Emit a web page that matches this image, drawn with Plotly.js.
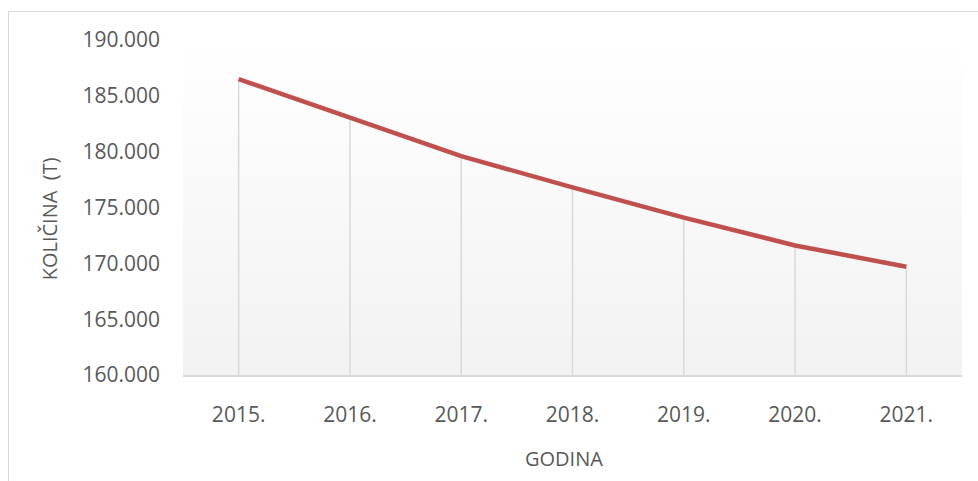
<!DOCTYPE html>
<html>
<head>
<meta charset="utf-8">
<script src="https://cdn.plot.ly/plotly-3.0.1.min.js"></script>
<style>
  html, body { margin: 0; padding: 0; background: #ffffff; overflow: hidden; }
  #frame { position: absolute; left: 8px; top: 11px; width: 990px; height: 490px;
           border-left: 1px solid #d9d9d9; border-top: 1px solid #d9d9d9; }
  #chart { position: absolute; left: 0; top: 0; width: 978px; height: 481px; }
</style>
</head>
<body>
<div id="frame"></div>
<div id="chart"></div>
<script>
const years = ['2015.', '2016.', '2017.', '2018.', '2019.', '2020.', '2021.'];
const quantities = [186500, 183000, 179600, 176800, 174100, 171600, 169700];
const yTickValues = [160000, 165000, 170000, 175000, 180000, 185000, 190000];
const yMin = 160000;
const yMax = 190000;
const xTitle = 'GODINA';
const yTitle = 'KOLIČINA\u00a0\u00a0(T)';

// drop lines from each point down to the axis
const dropX = [], dropY = [];
years.forEach((c, i) => { dropX.push(c, c, null); dropY.push(yMin, quantities[i], null); });

const gradSvg = "<svg xmlns='http://www.w3.org/2000/svg' width='10' height='100' preserveAspectRatio='none'>" +
  "<defs><linearGradient id='g' x1='0' y1='0' x2='0' y2='1'>" +
  "<stop offset='0' stop-color='#ffffff'/><stop offset='1' stop-color='#f2f2f2'/></linearGradient></defs>" +
  "<rect width='10' height='100' fill='url(#g)'/></svg>";
const gradUri = 'data:image/svg+xml;charset=utf-8,' + encodeURIComponent(gradSvg);

const font = "'Open Sans', 'Liberation Sans', sans-serif";

const data = [
  { x: dropX, y: dropY, type: 'scatter', mode: 'lines', hoverinfo: 'skip',
    line: { color: '#d9d9d9', width: 1.5 }, showlegend: false },
  { x: years, y: quantities, type: 'scatter', mode: 'lines',
    line: { color: '#c0504d', width: 4.5 }, showlegend: false }
];

const layout = {
  width: 978, height: 481,
  margin: { l: 183, r: 16, t: 40, b: 106 },
  paper_bgcolor: 'rgba(0,0,0,0)',
  plot_bgcolor: 'rgba(0,0,0,0)',
  separators: ',.',
  font: { family: font, color: '#595959', size: 21 },
  showlegend: false,
  images: [{ source: gradUri, xref: 'paper', yref: 'paper', x: 0, y: 1, sizex: 1, sizey: 1,
             xanchor: 'left', yanchor: 'top', sizing: 'stretch', layer: 'below' }],
  xaxis: {
    type: 'category', range: [-0.5, years.length - 0.5], fixedrange: true,
    showgrid: false, zeroline: false, showline: true, linecolor: '#d9d9d9', linewidth: 1.5,
    ticks: '', ticklabelstandoff: 20,
    tickfont: { family: font, color: '#595959', size: 21 }
  },
  yaxis: {
    range: [yMin, yMax], tickvals: yTickValues, tickformat: ',d', fixedrange: true,
    showgrid: false, zeroline: false, showline: false, ticks: '', ticklabelstandoff: 22,
    tickfont: { family: font, color: '#595959', size: 21 }
  },
  annotations: [
    { text: xTitle, xref: 'paper', yref: 'paper', x: 0.489, y: -0.249, showarrow: false,
      xanchor: 'center', yanchor: 'middle', font: { family: font, color: '#595959', size: 20 } },
    { text: yTitle, xref: 'paper', yref: 'paper', x: -0.171, y: 0.467, showarrow: false,
      textangle: -90, xanchor: 'center', yanchor: 'middle', font: { family: font, color: '#595959', size: 20 } }
  ]
};

Plotly.newPlot('chart', data, layout, { displayModeBar: false, staticPlot: true });
</script>
</body>
</html>
